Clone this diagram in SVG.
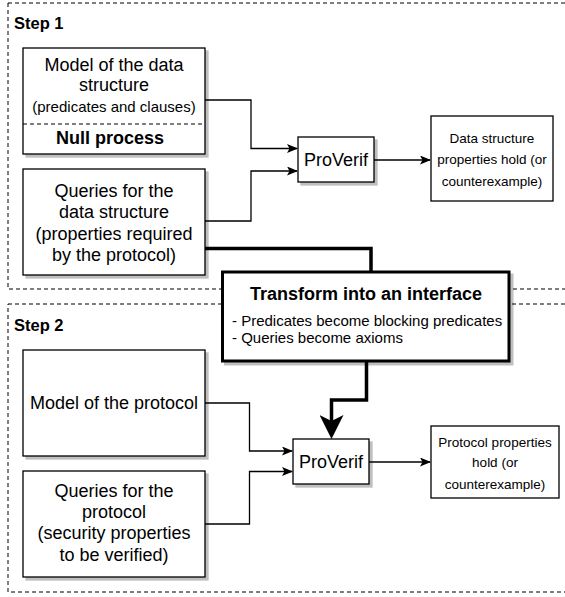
<svg xmlns="http://www.w3.org/2000/svg" width="565" height="597" viewBox="0 0 565 597">
<style>
  text { font-family: "Liberation Sans", Arial, Helvetica, sans-serif; fill: #000; }
  .box { fill: #fff; stroke: #000; stroke-width: 1.3; }
  .thick { fill: #fff; stroke: #000; stroke-width: 3; }
  .cont { fill: none; stroke: #000; stroke-width: 1; stroke-dasharray: 4 3; }
  .ln { fill: none; stroke: #000; stroke-width: 1.3; }
  .tln { fill: none; stroke: #000; stroke-width: 3.5; }
  .c { text-anchor: middle; }
  .b { font-weight: bold; }
  .f18 { font-size: 18px; }
  .f15 { font-size: 15px; }
  .f13 { font-size: 13.5px; }
  .step { font-size: 16.5px; font-weight: bold; }
</style>
<defs>
  <filter id="sh" x="-10%" y="-10%" width="130%" height="130%">
    <feFlood flood-color="#000" flood-opacity="0.25"/>
    <feComposite in2="SourceAlpha" operator="in"/>
    <feOffset dx="3" dy="3"/>
    <feGaussianBlur stdDeviation="0.6"/>
    <feMerge><feMergeNode/><feMergeNode in="SourceGraphic"/></feMerge>
  </filter>
  <marker id="ar" markerUnits="userSpaceOnUse" markerWidth="11" markerHeight="9" refX="10" refY="4.5" orient="auto">
    <path d="M0,0 L11,4.5 L0,9 L2.5,4.5 Z" fill="#000"/>
  </marker>
  <marker id="big" markerUnits="userSpaceOnUse" markerWidth="25" markerHeight="24" refX="10" refY="12" orient="auto">
    <path d="M0,0 L24,12 L0,24 L6,12 Z" fill="#000"/>
  </marker>
</defs>

<g id="step1">
  <rect class="cont" x="8" y="3" width="570" height="286"/>
  <text class="step" x="14" y="29">Step 1</text>
</g>
<g id="step2">
  <rect class="cont" x="8" y="304" width="570" height="288"/>
  <text class="step" x="14" y="331">Step 2</text>
</g>

<g id="connectors">
  <path class="ln" d="M205,100 H251 V148.5 H297" marker-end="url(#ar)"/>
  <path class="ln" d="M205,221 H251 V171 H297" marker-end="url(#ar)"/>
  <path class="ln" d="M374,160 H430" marker-end="url(#ar)"/>
  <path class="tln" d="M205,248.5 H371 V272"/>
  <path class="tln" d="M366.5,361 V400 H331.5 V425" marker-end="url(#big)"/>
  <path class="ln" d="M205,403 H249.5 V451 H292" marker-end="url(#ar)"/>
  <path class="ln" d="M205,524 H249.5 V471.5 H292" marker-end="url(#ar)"/>
  <path class="ln" d="M369,462 H430" marker-end="url(#ar)"/>
</g>

<g id="model-data">
  <rect class="box" filter="url(#sh)" x="23" y="48" width="182" height="106"/>
  <line x1="23" y1="124" x2="205" y2="124" stroke="#000" stroke-width="1" stroke-dasharray="4 3"/>
  <text class="c f18" x="114" y="71">Model of the data</text>
  <text class="c f18" x="114" y="91">structure</text>
  <text class="c f15" x="114" y="112">(predicates and clauses)</text>
  <text class="c b f18" x="110" y="144">Null process</text>
</g>

<g id="queries-data">
  <rect class="box" filter="url(#sh)" x="23" y="169" width="182" height="106"/>
  <text class="c f18" x="114" y="197">Queries for the</text>
  <text class="c f18" x="114" y="218">data structure</text>
  <text class="c f18" x="114" y="240">(properties required</text>
  <text class="c f18" x="114" y="261">by the protocol)</text>
</g>

<g id="proverif1">
  <rect class="box" filter="url(#sh)" x="298" y="137" width="76" height="45"/>
  <text class="c f18" x="336" y="166">ProVerif</text>
</g>

<g id="result1">
  <rect class="box" x="431" y="116" width="122" height="85"/>
  <text class="c f13" x="492" y="143">Data structure</text>
  <text class="c f13" x="492" y="164">properties hold (or</text>
  <text class="c f13" x="492" y="186">counterexample)</text>
</g>

<g id="transform">
  <rect class="thick" filter="url(#sh)" x="222.5" y="272" width="286.5" height="89"/>
  <text class="c b f18" x="366" y="300">Transform into an interface</text>
  <text class="f15" x="232" y="326">- Predicates become blocking predicates</text>
  <text class="f15" x="232" y="343">- Queries become axioms</text>
</g>

<g id="model-protocol">
  <rect class="box" filter="url(#sh)" x="23" y="350" width="182" height="106"/>
  <text class="c f18" x="114" y="409">Model of the protocol</text>
</g>

<g id="queries-protocol">
  <rect class="box" filter="url(#sh)" x="23" y="471" width="182" height="106"/>
  <text class="c f18" x="114" y="497">Queries for the</text>
  <text class="c f18" x="114" y="518">protocol</text>
  <text class="c f18" x="114" y="539">(security properties</text>
  <text class="c f18" x="114" y="561">to be verified)</text>
</g>

<g id="proverif2">
  <rect class="box" filter="url(#sh)" x="293" y="439" width="76" height="45"/>
  <text class="c f18" x="331" y="468">ProVerif</text>
</g>

<g id="result2">
  <rect class="box" x="431" y="426" width="128" height="72"/>
  <text class="c f13" x="495" y="447">Protocol properties</text>
  <text class="c f13" x="495" y="467">hold (or</text>
  <text class="c f13" x="495" y="489">counterexample)</text>
</g>
</svg>
